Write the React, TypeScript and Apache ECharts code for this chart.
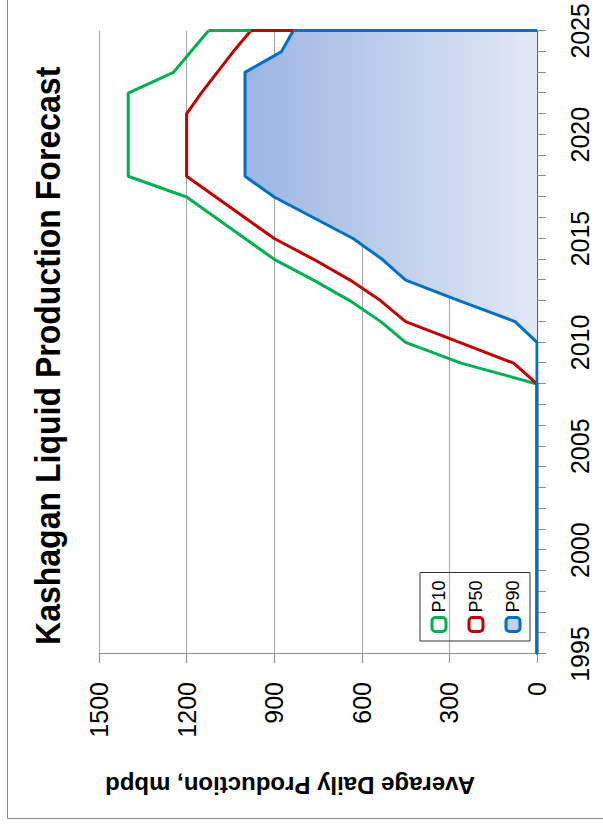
import React, { useEffect, useRef } from "react";
import * as echarts from "echarts";

// Forecast years (category axis) and the three probability cases, mbpd
const years = [
  "1995", "1996", "1997", "1998", "1999", "2000", "2001", "2002", "2003", "2004",
  "2005", "2006", "2007", "2008", "2009", "2010", "2011", "2012", "2013", "2014",
  "2015", "2016", "2017", "2018", "2019", "2020", "2021", "2022", "2023", "2024", "2025",
];

const p10 = [
  0, 0, 0, 0, 0, 0, 0, 0, 0, 0, 0, 0, 0, 0,
  260, 450, 535, 640, 765, 900, 1000, 1100, 1200, 1400, 1400, 1400, 1400, 1400, 1245, 1185, 1125,
];

const p50 = [
  0, 0, 0, 0, 0, 0, 0, 0, 0, 0, 0, 0, 0, 0,
  80, 265, 450, 535, 640, 765, 900, 1000, 1100, 1200, 1200, 1200, 1200, 1150, 1095, 1040, 980,
];

const p90 = [
  0, 0, 0, 0, 0, 0, 0, 0, 0, 0, 0, 0, 0, 0, 0, 0,
  75, 265, 450, 530, 630, 765, 900, 1000, 1000, 1000, 1000, 1000, 1000, 875, 835,
];

const valueTicks = { min: 0, max: 1500, interval: 300 };

const GREEN = "#00b050";
const RED = "#c00000";
const BLUE = "#0070c0";
const FONT = "'Liberation Sans', Arial, sans-serif";

// chart is laid out landscape, then turned a quarter turn counter-clockwise
const CW = 832;
const CH = 603;

export default function App() {
  const ref = useRef<HTMLDivElement>(null);

  useEffect(() => {
    if (!ref.current) return;
    const chart = echarts.init(ref.current, undefined, { renderer: "svg" });
    const last = years[years.length - 1];
    const n = years.length - 1;

    // closing edge of each filled outline at the final year
    const edge = (from: number, to: number, color: string) => ({
      silent: true,
      symbol: ["none", "none"],
      label: { show: false },
      lineStyle: { color, width: 3, type: "solid" },
      data: [[{ coord: [last, from] }, { coord: [last, to] }]],
    });

    chart.setOption({
      animation: false,
      backgroundColor: "#ffffff",
      grid: { left: 178, right: 30, top: 99, bottom: 66 },
      xAxis: {
        type: "category",
        data: years,
        boundaryGap: false,
        axisLine: { show: true, lineStyle: { color: BLUE, width: 2 } },
        axisTick: { show: true, interval: 0, length: 9, lineStyle: { color: "#8c8c8c", width: 1 } },
        axisLabel: {
          interval: 4,
          margin: 30,
          fontSize: 25,
          color: "#000",
          fontFamily: FONT,
        },
        splitLine: { show: false },
      },
      yAxis: {
        type: "value",
        min: valueTicks.min,
        max: valueTicks.max,
        interval: valueTicks.interval,
        axisLine: { show: true, lineStyle: { color: "#8c8c8c", width: 1 } },
        axisTick: { show: true, length: 9, lineStyle: { color: "#8c8c8c", width: 1 } },
        axisLabel: {
          margin: 28,
          fontSize: 25,
          color: "#000",
          fontFamily: FONT,
          formatter: (v: number) => String(v),
        },
        splitLine: { show: true, lineStyle: { color: "#a6a6a6", width: 1 } },
      },
      legend: {
        orient: "vertical",
        left: 191,
        top: 420,
        itemWidth: 14,
        itemHeight: 14,
        itemGap: 19,
        padding: [10, 8, 8, 8],
        borderColor: "#333",
        borderWidth: 1,
        icon: "roundRect",
        textStyle: { fontSize: 18, color: "#000", fontFamily: FONT },
        data: [
          { name: "P10", itemStyle: { color: "#ffffff", borderColor: GREEN, borderWidth: 3 } },
          { name: "P50", itemStyle: { color: "#ffffff", borderColor: RED, borderWidth: 3 } },
          { name: "P90", itemStyle: { color: "#c3d1ee", borderColor: BLUE, borderWidth: 3 } },
        ],
      },
      graphic: [
        {
          type: "rect",
          silent: true,
          shape: { x: 13.5, y: 7.5, width: 1000, height: 1000 },
          style: { fill: "none", stroke: "#8c8c8c", lineWidth: 1 },
        },
        {
          type: "text",
          x: 187,
          y: 29,
          scaleX: 0.89,
          style: {
            text: "Kashagan Liquid Production Forecast",
            font: `bold 36px ${FONT}`,
            fill: "#000",
            textAlign: "left",
            textVerticalAlign: "top",
          },
        },
        {
          type: "text",
          x: 47,
          y: 290,
          rotation: Math.PI / 2,
          style: {
            text: "Average Daily Production, mbpd",
            font: `bold 24px ${FONT}`,
            fill: "#000",
            textAlign: "center",
            textVerticalAlign: "middle",
          },
        },
      ],
      series: [
        {
          name: "P10",
          type: "line",
          data: p10,
          symbol: "none",
          lineStyle: { color: GREEN, width: 3 },
          itemStyle: { color: GREEN },
          markLine: edge(p50[n], p10[n], GREEN),
        },
        {
          name: "P50",
          type: "line",
          data: p50,
          symbol: "none",
          lineStyle: { color: RED, width: 3 },
          itemStyle: { color: RED },
          markLine: edge(p90[n], p50[n], RED),
        },
        {
          name: "P90",
          type: "line",
          data: p90,
          symbol: "none",
          lineStyle: { color: BLUE, width: 3 },
          itemStyle: { color: BLUE },
          areaStyle: {
            opacity: 1,
            color: new echarts.graphic.LinearGradient(0, 0, 0, 1, [
              { offset: 0, color: "#9bb5e3" },
              { offset: 1, color: "#e2e8f5" },
            ]),
          },
          markLine: edge(0, p90[n], BLUE),
        },
      ],
    });

    return () => chart.dispose();
  }, []);

  return (
    <div
      style={{
        position: "fixed",
        left: 0,
        top: 0,
        width: CH,
        height: CW,
        overflow: "hidden",
        background: "#fff",
      }}
    >
      <div
        ref={ref}
        style={{
          position: "absolute",
          left: 0,
          top: 0,
          width: CW,
          height: CH,
          transformOrigin: "0 0",
          transform: `rotate(-90deg) translate(-${CW}px, 0)`,
        }}
      />
    </div>
  );
}
